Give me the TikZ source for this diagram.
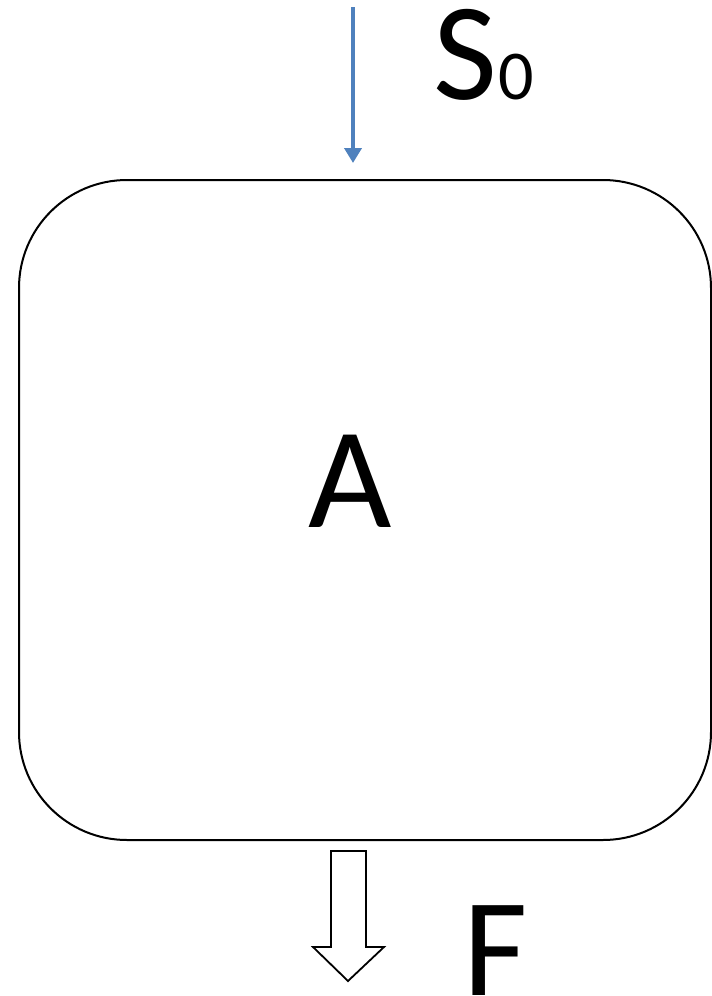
\documentclass[tikz,border=0pt]{standalone}
\usepackage{fontspec}
\setmainfont{Carlito}
\usetikzlibrary{arrows.meta}
\definecolor{officeblue}{HTML}{4F81BD}
\tikzset{
  bigbox/.style={draw=black, line width=2pt, rounded corners=108pt, minimum width=692pt, minimum height=660pt, inner sep=0pt},
  bluearrow/.style={draw=officeblue, line width=4.5pt, -{Triangle[width=17pt,length=15pt]}},
  hollowarrow/.style={draw=black, line width=1.8pt, fill=white, line join=miter},
  lbl/.style={inner sep=0pt, outer sep=0pt, text=black}
}
\begin{document}
\begin{tikzpicture}[x=1pt,y=-1pt]
\useasboundingbox (0,0) rectangle (712,996);
\node[bigbox] (box) at (365,510) {};
\node[lbl, anchor=base] (A) at (350,527) {\fontsize{144}{144}\selectfont A};
\coordinate (s0start) at (353,7);
\coordinate (s0end) at (353,163);
\draw[bluearrow] (s0start) -- (s0end);
\node[lbl, anchor=base west] (S) at (433,99) {\fontsize{139}{139}\selectfont S\fontsize{70}{70}\selectfont\hspace{2pt}0};
\draw[hollowarrow] (331,851) -- (366,851) -- (366,947) -- (384,947) -- (348,981) -- (313,947) -- (331,947) -- cycle;
\node[lbl, anchor=base west] (F) at (463,995) {\fontsize{140}{140}\selectfont F};
\end{tikzpicture}
\end{document}
